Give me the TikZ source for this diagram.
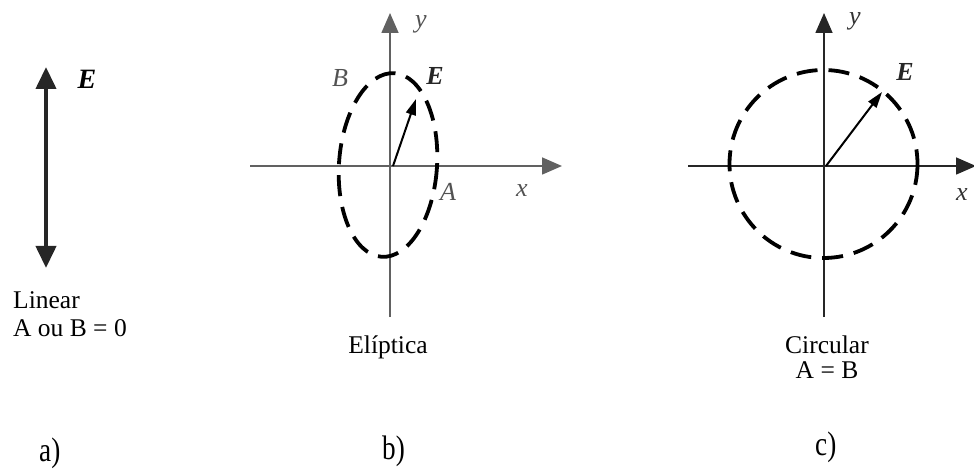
\documentclass[tikz,border=0pt]{standalone}
\usepackage{fontspec}
\setmainfont{Liberation Serif}
\usetikzlibrary{arrows.meta}
\definecolor{axb}{gray}{0.38}
\definecolor{txb}{gray}{0.32}
\definecolor{axc}{gray}{0.15}
\begin{document}
\begin{tikzpicture}[x=1pt,y=-1pt,
  lbl/.style={font=\fontsize{25.5}{28}\selectfont, inner sep=0pt},
  caplbl/.style={font=\fontsize{34}{36}\selectfont, inner sep=0pt, anchor=base west},
  ilbl/.style={font=\fontsize{26}{28}\selectfont\itshape, inner sep=0pt},
  elbl/.style={font=\fontsize{26}{28}\selectfont\bfseries\itshape, inner sep=0pt},
  axtip/.style={-{Triangle[length=20pt,width=17pt]}},
  axisB/.style={line width=1.6pt, draw=axb, axtip, color=axb},
  axisC/.style={line width=1.6pt, draw=axc, axtip, color=axc},
  vec/.style={line width=2pt, -{Triangle[length=16pt,width=10pt]}},
  pol/.style={line width=3.8pt, dash pattern=on 21pt off 11pt},
  dbl/.style={line width=4pt, {Triangle[length=22pt,width=20pt]}-{Triangle[length=22pt,width=20pt]}}
]
\useasboundingbox (0,0) rectangle (974,470);

% ---------- a) linear ----------
\coordinate (aTop) at (46,67);
\coordinate (aBot) at (46,268);
\draw[dbl, draw=black!85, fill=black!85] (aTop) -- (aBot);
\node[elbl, font=\fontsize{28}{30}\selectfont\bfseries\itshape] (aE) at (87,79) {E};
\node[lbl, anchor=base west] (lin1) at (13,308) {Linear};
\node[lbl, anchor=base west] (lin2) at (13,336) {A ou B = 0};
\node[caplbl] (capa) at (39,461) {\scalebox{0.8}[1]{a)}};

% ---------- b) eliptica ----------
\coordinate (bO) at (390,166);
\coordinate (bYt) at (390,13);
\coordinate (bYb) at (390,317);
\coordinate (bXl) at (250,166);
\coordinate (bXr) at (562,166);
\coordinate (bEs) at (393,166);
\coordinate (bEt) at (416,99);
\draw[axisB] (bYb) -- (bYt);
\draw[axisB] (bXl) -- (bXr);
\draw[pol, rotate around={-4:(388,165)}] (388,165) ellipse [x radius=49, y radius=92];
\draw[vec] (bEs) -- (bEt);
\node[ilbl, text=txb] (by) at (421,24) {y};
\node[ilbl, text=txb] (bB) at (340,78) {B};
\node[elbl, text=black!85] (bE) at (435,76) {E};
\node[ilbl, text=txb] (bA) at (448,192) {A};
\node[ilbl, text=txb] (bx) at (522,191) {x};
\node[lbl, anchor=base] (elip) at (388,353) {Elíptica};
\node[caplbl] (capb) at (382,459) {\scalebox{0.8}[1]{b)}};

% ---------- c) circular ----------
\coordinate (cO) at (824,166);
\coordinate (cYt) at (824,13);
\coordinate (cYb) at (824,317);
\coordinate (cXl) at (688,166);
\coordinate (cXr) at (976,166);
\coordinate (cEs) at (826,166);
\coordinate (cEt) at (882,92);
\draw[axisC] (cYb) -- (cYt);
\draw[axisC] (cXl) -- (cXr);
\draw[pol] (823.5,164) circle [radius=94];
\draw[vec] (cEs) -- (cEt);
\node[ilbl, text=black!80] (cy) at (855,21) {y};
\node[elbl, text=black!85] (cE) at (905,72) {E};
\node[ilbl, text=black!80] (cx) at (962,195) {x};
\node[lbl, anchor=base] (circ) at (827,353) {Circular};
\node[lbl, anchor=base] (circ2) at (827,378) {A = B};
\node[caplbl] (capc) at (815,455) {\scalebox{0.8}[1]{c)}};
\end{tikzpicture}
\end{document}
